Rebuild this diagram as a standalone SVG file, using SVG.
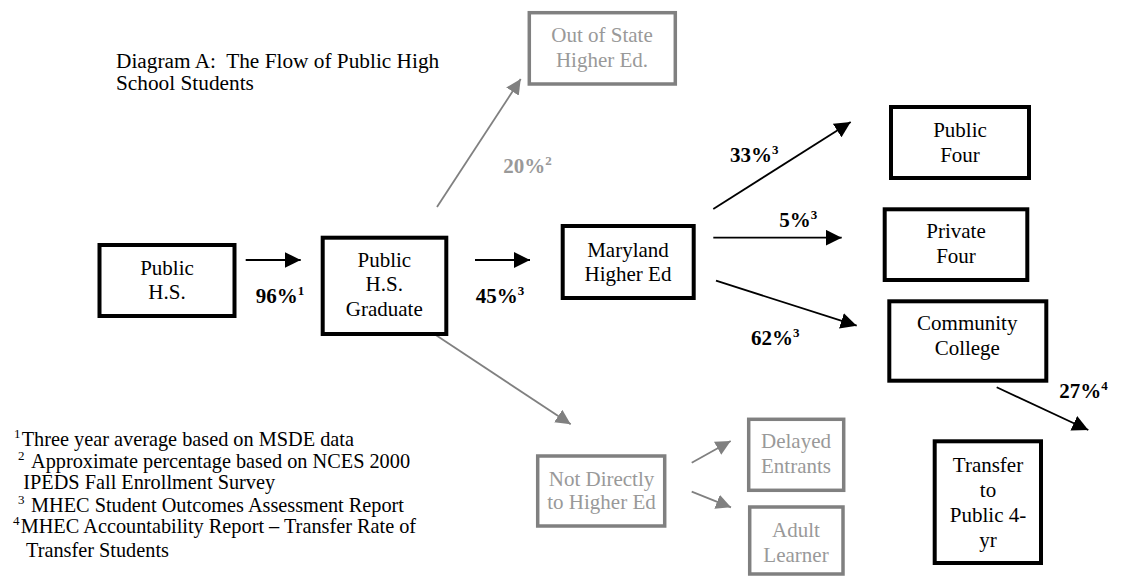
<svg xmlns="http://www.w3.org/2000/svg" width="1138" height="578" viewBox="0 0 1138 578">
<style>
text{font-family:"Liberation Serif","Times New Roman",serif;font-size:21px;}
.c{text-anchor:middle;}
.bx{fill:#fff;stroke:#000;stroke-width:4;}
.gbx{fill:#fff;stroke:#808080;stroke-width:3.5;}
.gt{fill:#999;}
.pct{font-weight:bold;}
.sup{font-size:13px;}
.fn{font-size:20.3px;}
.ln{stroke:#000;stroke-width:1.8;fill:none;marker-end:url(#ah);}
.gln{stroke:#808080;stroke-width:1.8;fill:none;marker-end:url(#gah);}
</style>
<defs>
<marker id="ah" markerUnits="userSpaceOnUse" markerWidth="17" markerHeight="16" refX="16" refY="8" orient="auto" viewBox="0 0 17 16"><path d="M0,0 L16,8 L0,16 z" fill="#000"/></marker>
<marker id="gah" markerUnits="userSpaceOnUse" markerWidth="16" markerHeight="15" refX="15" refY="7.5" orient="auto" viewBox="0 0 16 15"><path d="M0,0 L15,7.5 L0,15 z" fill="#808080"/></marker>
</defs>
<rect width="1138" height="578" fill="#fff"/>
<g id="title"><text x="116" y="68.3" style="font-size:21.3px" xml:space="preserve">Diagram A:  The Flow of Public High</text><text x="116" y="90" style="font-size:21.3px">School Students</text></g>
<g id="connectors">
<line class="ln" x1="245.7" y1="260" x2="300.7" y2="260"/>
<line class="ln" x1="475" y1="260" x2="530" y2="260"/>
<line class="ln" x1="713.3" y1="209" x2="850.7" y2="122"/>
<line class="ln" x1="713.3" y1="237.7" x2="841.7" y2="237.7"/>
<line class="ln" x1="716" y1="280.7" x2="856.7" y2="325.7"/>
<line class="ln" x1="996.7" y1="387.3" x2="1088.3" y2="430"/>
<line class="gln" x1="437" y1="207" x2="520.7" y2="79"/>
<line class="gln" x1="426.7" y1="329" x2="570.7" y2="424.3"/>
<line class="gln" x1="691.7" y1="462.7" x2="730.7" y2="441"/>
<line class="gln" x1="691.7" y1="491.7" x2="731" y2="507.3"/>
</g>
<g id="labels">
<text class="pct" x="255.7" y="303">96%<tspan class="sup" dy="-8">1</tspan></text>
<text class="pct" x="475.7" y="303">45%<tspan class="sup" dy="-8">3</tspan></text>
<text class="pct" x="730" y="161.7">33%<tspan class="sup" dy="-8">3</tspan></text>
<text class="pct" x="779.3" y="226.7">5%<tspan class="sup" dy="-8">3</tspan></text>
<text class="pct" x="751" y="345">62%<tspan class="sup" dy="-8">3</tspan></text>
<text class="pct" x="1059.3" y="398.3">27%<tspan class="sup" dy="-8">4</tspan></text>
<text class="pct gt" x="503.3" y="173.3">20%<tspan class="sup" dy="-8">2</tspan></text>
</g>
<g id="public-hs"><rect class="bx" x="99.5" y="245" width="135" height="71"/><text class="c" x="167" y="275">Public</text><text class="c" x="167" y="299">H.S.</text></g>
<g id="graduate"><rect class="bx" x="322.7" y="237.7" width="123.6" height="96.3"/><text class="c" x="384.3" y="266.7">Public</text><text class="c" x="384.3" y="290.7">H.S.</text><text class="c" x="384.3" y="316">Graduate</text></g>
<g id="maryland"><rect class="bx" x="562.7" y="226" width="131" height="72"/><text class="c" x="628" y="257.3">Maryland</text><text class="c" x="628" y="280.7">Higher Ed</text></g>
<g id="public-four"><rect class="bx" x="891" y="107" width="138" height="71"/><text class="c" x="960" y="136.7">Public</text><text class="c" x="960" y="161.7">Four</text></g>
<g id="private-four"><rect class="bx" x="884.7" y="209.3" width="142.6" height="70.7"/><text class="c" x="956" y="238.3">Private</text><text class="c" x="956" y="263.3">Four</text></g>
<g id="community-college"><rect class="bx" x="889.3" y="301.3" width="157" height="79.4"/><text class="c" x="967.3" y="330">Community</text><text class="c" x="967.3" y="355">College</text></g>
<g id="transfer"><rect class="bx" x="934.7" y="441.3" width="106.3" height="121.7"/><text class="c" x="988" y="471.7">Transfer</text><text class="c" x="988" y="496.7">to</text><text class="c" x="988" y="521.7">Public 4-</text><text class="c" x="988" y="546.7">yr</text></g>
<g id="out-of-state"><rect class="gbx" x="529.3" y="12.7" width="146" height="71.3"/><text class="c gt" x="602" y="41.7">Out of State</text><text class="c gt" x="602" y="66.7">Higher Ed.</text></g>
<g id="not-directly"><rect class="gbx" x="537.7" y="456" width="127" height="70"/><text class="c gt" x="601.5" y="486">Not Directly</text><text class="c gt" x="601.5" y="509.3">to Higher Ed</text></g>
<g id="delayed"><rect class="gbx" x="748.7" y="419.3" width="95" height="71"/><text class="c gt" x="796" y="448.3">Delayed</text><text class="c gt" x="796" y="473.3">Entrants</text></g>
<g id="adult"><rect class="gbx" x="749.7" y="507" width="93.3" height="67"/><text class="c gt" x="796" y="536.7">Adult</text><text class="c gt" x="796" y="561.7">Learner</text></g>
<g id="footnotes">
<text class="sup" x="14" y="438">1</text><text class="fn" x="21.7" y="446">Three year average based on MSDE data</text>
<text class="sup" x="18" y="460.3">2</text><text class="fn" x="31" y="468.3">Approximate percentage based on NCES 2000</text>
<text class="fn" x="23.3" y="489.3">IPEDS Fall Enrollment Survey</text>
<text class="sup" x="18" y="503.7">3</text><text class="fn" x="31" y="511.7">MHEC Student Outcomes Assessment Report</text>
<text class="sup" x="13" y="525.3">4</text><text class="fn" x="20.7" y="533.3">MHEC Accountability Report – Transfer Rate of</text>
<text class="fn" x="26" y="556.7">Transfer Students</text>
</g>
</svg>
